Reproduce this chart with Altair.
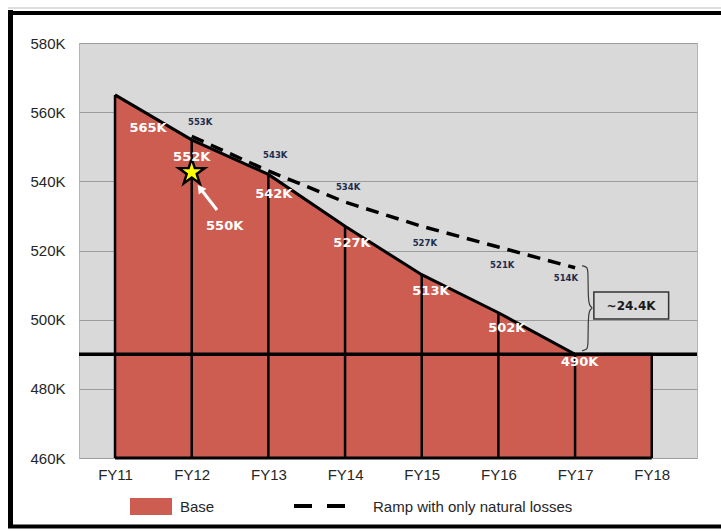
import altair as alt
import pandas as pd

years = ["FY11", "FY12", "FY13", "FY14", "FY15", "FY16", "FY17", "FY18"]
base_values = [565, 552, 542, 527, 513, 502, 490, 490]
base_labels = ["565K", "552K", "542K", "527K", "513K", "502K", "490K"]
base_label_x = [0.43, 1.0, 2.07, 3.09, 4.12, 5.11, 6.06]
base_label_y = [555.4, 547.0, 536.3, 522.2, 508.3, 497.6, 487.8]

ramp_x = [1, 2, 3, 4, 5, 6]
ramp_values = [553, 543, 534, 527, 521, 515]
ramp_labels = ["553K", "543K", "534K", "527K", "521K", "514K"]
ramp_label_x = [1.11, 2.09, 3.04, 4.04, 5.05, 5.88]
ramp_label_y = [557.2, 547.6, 538.4, 522.2, 515.8, 512.0]

star_x, star_y = [1.0], [542.6]
note_label, note_x, note_y = ["550K"], [1.43], [527.1]
arrow_x, arrow_y = [1.33, 1.11], [531.7, 538.0]

brace_x = [6.09, 6.16, 6.17, 6.17, 6.2, 6.23, 6.2, 6.17, 6.17, 6.16, 6.09]
brace_y = [515.6, 515.2, 514.0, 505.0, 503.8, 503.4, 503.0, 501.8, 492.4, 491.4, 491.0]
gap_label, gap_x, gap_y = ["~24.4K"], [6.73], [503.9]
gap_box_x, gap_box_x2, gap_box_y, gap_box_y2 = [6.245], [7.22], [500.2], [508.0]

RED = "#cd5c51"
FONT = "Liberation Sans"
BOLD = "DejaVu Sans"

base_df = pd.DataFrame({"x": list(range(len(years))), "v": base_values, "floor": [460] * len(years)})
base_lab_df = pd.DataFrame({"x": base_label_x, "y": base_label_y, "t": base_labels})
ramp_df = pd.DataFrame({"x": ramp_x, "v": ramp_values})
ramp_lab_df = pd.DataFrame({"x": ramp_label_x, "y": ramp_label_y, "t": ramp_labels})
star_df = pd.DataFrame({"x": star_x, "y": star_y})
note_df = pd.DataFrame({"x": note_x, "y": note_y, "t": note_label})
arrow_df = pd.DataFrame({"x": [arrow_x[0]], "y": [arrow_y[0]], "x2": [arrow_x[1]], "y2": [arrow_y[1]]})
head_df = pd.DataFrame({"x": [arrow_x[1]], "y": [arrow_y[1]]})
brace_df = pd.DataFrame({"x": brace_x, "y": brace_y, "i": list(range(len(brace_x)))})
gap_df = pd.DataFrame({"x": gap_x, "y": gap_y, "t": gap_label})
box_df = pd.DataFrame({"x": gap_box_x, "x2": gap_box_x2, "y": gap_box_y, "y2": gap_box_y2})
one = pd.DataFrame({"a": [0]})

label_expr = "[" + ",".join("'" + y + "'" for y in years) + "][datum.value]"
xs = alt.Scale(domain=[-0.47, 7.59], nice=False, zero=False)
ys = alt.Scale(domain=[460, 580], nice=False, zero=False)
X = alt.X("x:Q", scale=xs, axis=alt.Axis(values=list(range(len(years))), labelExpr=label_expr,
                                          ticks=False, domain=False, grid=False, labelPadding=9,
                                          labelFontSize=15, labelFont=FONT, labelColor="#262626", title=None))
Y = alt.Y("v:Q", scale=ys, axis=alt.Axis(values=list(range(460, 581, 20)), labelExpr="datum.value + 'K'",
                                          ticks=False, domain=False, grid=True, gridColor="#9c9c9c",
                                          gridWidth=1, labelPadding=14, labelFontSize=15, labelFont=FONT,
                                          labelColor="#262626", title=None))

area = alt.Chart(base_df).mark_area(color=RED, opacity=1).encode(x=X, y=Y, y2="floor:Q")
verticals = alt.Chart(base_df).mark_rule(color="black", strokeWidth=2.5).encode(
    x="x:Q", y="v:Q", y2="floor:Q")
outline = alt.Chart(base_df).mark_line(color="black", strokeWidth=3).encode(x="x:Q", y="v:Q")
line490 = alt.Chart(one).mark_rule(color="black", strokeWidth=3.5).encode(y=alt.datum(490))
bottom = alt.Chart(one).mark_rule(color="black", strokeWidth=3).encode(
    x=alt.datum(0), x2=alt.datum(7), y=alt.datum(460))
ramp = alt.Chart(ramp_df).mark_line(color="black", strokeWidth=3.5, strokeDash=[13, 8]).encode(
    x="x:Q", y="v:Q")

base_text = alt.Chart(base_lab_df).mark_text(font=BOLD, fontWeight="bold", fontSize=13, color="white").encode(
    x="x:Q", y="y:Q", text="t:N")
ramp_text = alt.Chart(ramp_lab_df).mark_text(font=BOLD, fontWeight="bold", fontSize=8.5, color="#1f2d4d").encode(
    x="x:Q", y="y:Q", text="t:N")

star_path = "M0,-1L0.2245,-0.309L0.951,-0.309L0.363,0.118L0.588,0.809L0,0.382L-0.588,0.809L-0.363,0.118L-0.951,-0.309L-0.2245,-0.309Z"
star_out = alt.Chart(star_df).mark_point(shape=star_path, filled=True, color="black", size=1250, opacity=1).encode(
    x="x:Q", y="y:Q")
star_in = alt.Chart(star_df).mark_point(shape=star_path, filled=True, color="#ffff00", size=380, opacity=1).encode(
    x="x:Q", y="y:Q")
arrow = alt.Chart(arrow_df).mark_rule(color="white", strokeWidth=3).encode(
    x="x:Q", y="y:Q", x2="x2:Q", y2="y2:Q")
head = alt.Chart(head_df).mark_point(shape="triangle-up", filled=True, color="white", size=90, angle=323,
                                     opacity=1).encode(x="x:Q", y="y:Q")
note = alt.Chart(note_df).mark_text(font=BOLD, fontWeight="bold", fontSize=13, color="white").encode(
    x="x:Q", y="y:Q", text="t:N")

brace = alt.Chart(brace_df).mark_line(color="#3a3a3a", strokeWidth=1.2, interpolate="basis").encode(
    x="x:Q", y="y:Q", order="i:Q")
box = alt.Chart(box_df).mark_rect(fillOpacity=0, stroke="#333333", strokeWidth=1.5).encode(
    x="x:Q", x2="x2:Q", y="y:Q", y2="y2:Q")
gap_text = alt.Chart(gap_df).mark_text(font=BOLD, fontWeight="bold", fontSize=12, color="#1a1a1a").encode(
    x="x:Q", y="y:Q", text="t:N")

# legend (pixel positions relative to plot area)
leg_rect = alt.Chart(one).mark_rect(color=RED).encode(
    x=alt.value(51), x2=alt.value(93), y=alt.value(455), y2=alt.value(472))
leg_base = alt.Chart(one).mark_text(text="Base", font=FONT, fontSize=15, color="#262626", align="left",
                                    baseline="middle").encode(x=alt.value(101), y=alt.value(464))
leg_d1 = alt.Chart(one).mark_rule(color="black", strokeWidth=4).encode(
    x=alt.value(215), x2=alt.value(233), y=alt.value(463))
leg_d2 = alt.Chart(one).mark_rule(color="black", strokeWidth=4).encode(
    x=alt.value(248), x2=alt.value(266), y=alt.value(463))
leg_ramp = alt.Chart(one).mark_text(text="Ramp with only natural losses", font=FONT, fontSize=15,
                                    color="#262626", align="left", baseline="middle").encode(
    x=alt.value(294), y=alt.value(464))

# frame around the figure
fr_left = alt.Chart(one).mark_rule(color="black", strokeWidth=5).encode(
    x=alt.value(-68.5), y=alt.value(-33), y2=alt.value(485))
fr_top = alt.Chart(one).mark_rule(color="black", strokeWidth=4).encode(
    x=alt.value(-71), x2=alt.value(700), y=alt.value(-30))
fr_top2 = alt.Chart(one).mark_rule(color="#bdbdbd", strokeWidth=1).encode(
    x=alt.value(-71), x2=alt.value(700), y=alt.value(-35))
fr_bot = alt.Chart(one).mark_rule(color="black", strokeWidth=4).encode(
    x=alt.value(-71), x2=alt.value(700), y=alt.value(483.5))

chart = alt.layer(
    area, verticals, outline, line490, bottom, ramp,
    star_out, star_in, base_text, ramp_text, arrow, head, note, brace, box, gap_text,
    leg_rect, leg_base, leg_d1, leg_d2, leg_ramp, fr_left, fr_top, fr_top2, fr_bot
).properties(
    width=618, height=415,
    autosize=alt.AutoSizeParams(type="none"),
    padding={"left": 79, "top": 43, "right": 24, "bottom": 73},
    background="white",
).configure_view(fill="#d9d9d9", stroke="#b5b5b5", strokeWidth=1)

chart.save("out.html", embed_options={"renderer": "svg", "actions": False})
